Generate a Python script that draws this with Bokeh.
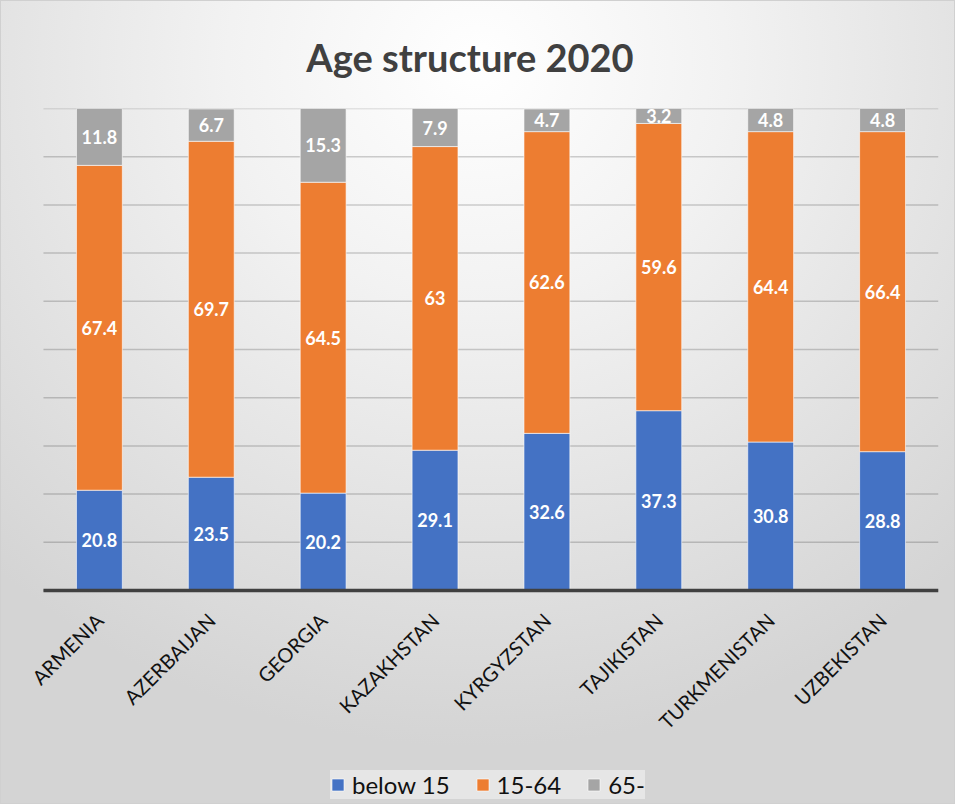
import numpy as np
from bokeh.plotting import figure
from bokeh.models import (ColumnDataSource, LabelSet, Legend, LegendItem,
                          Range1d, FixedTicker)
from bokeh.core.properties import value
from bokeh.embed import file_html
from bokeh.resources import INLINE
import math

countries = ["ARMENIA", "AZERBAIJAN", "GEORGIA", "KAZAKHSTAN",
             "KYRGYZSTAN", "TAJIKISTAN", "TURKMENISTAN", "UZBEKISTAN"]
below15 = [20.8, 23.5, 20.2, 29.1, 32.6, 37.3, 30.8, 28.8]
age15_64 = [67.4, 69.7, 64.5, 63, 62.6, 59.6, 64.4, 66.4]
age65 = [11.8, 6.7, 15.3, 7.9, 4.7, 3.2, 4.8, 4.8]
series_names = ["below 15", "15-64", "65-"]
colors = ["#4472C4", "#ED7D31", "#A5A5A5"]
y_ticks = list(range(0, 101, 10))

n = len(countries)
idx = list(range(n))
b = np.array(below15)
m = np.array(age15_64)
o = np.array(age65)

src = ColumnDataSource(dict(
    x=idx, country=countries, s0=below15, s1=age15_64, s2=age65,
    l0=[f"{v:g}" for v in below15],
    l1=[f"{v:g}" for v in age15_64],
    l2=[f"{v:g}" for v in age65],
    y0=list(b / 2), y1=list(b + m / 2), y2=list(b + m + o / 2),
))

# frame extends left of the first category band and below the baseline so
# the rotated category labels and the legend fit inside it
p = figure(frame_width=937, frame_height=695,
           x_range=Range1d(-0.875, n - 0.5),
           y_range=Range1d(-44.2, 100), output_backend="svg",
           toolbar_location=None, min_border_left=0, min_border_right=16,
           min_border_top=107, min_border_bottom=0)

p.styles = {"background-image": "radial-gradient(ellipse 75% 85% at 50% 8%, #ffffff 0%, #f2f2f2 35%, #d4d4d4 100%)",
            "border": "1px solid #d0d0d0"}
p.border_fill_alpha = 0
p.background_fill_alpha = 0
p.outline_line_color = None

# horizontal gridlines across the category bands only
grid_src = ColumnDataSource(dict(x0=[-0.5] * len(y_ticks),
                                 x1=[n - 0.5] * len(y_ticks),
                                 y=y_ticks))
p.segment(x0="x0", x1="x1", y0="y", y1="y", source=grid_src,
          line_color="black", line_alpha=0.18, line_width=1.5)

renderers = p.vbar_stack(["s0", "s1", "s2"], x="x", width=0.41,
                         color=colors, source=src,
                         line_color="white", line_alpha=0.6, line_width=1)

# baseline (category axis line)
base_src = ColumnDataSource(dict(x0=[-0.5], x1=[n - 0.5], y=[0]))
p.segment(x0="x0", x1="x1", y0="y", y1="y", source=base_src,
          line_color="#404040", line_width=3.5)

for i in range(3):
    ls = LabelSet(x="x", y=f"y{i}", text=f"l{i}", source=src,
                  text_align="center", text_baseline="middle",
                  text_color="white", text_font=value("Lato"),
                  text_font_style="bold", text_font_size="18px")
    p.add_layout(ls)

p.title.text = "Age structure 2020"
p.title.align = "center"
p.title.offset = 17
p.title.text_font = "Lato"
p.title.text_font_size = "38px"
p.title.text_font_style = "bold"
p.title.text_color = "#404040"
p.title.standoff = 58

p.yaxis.visible = False
p.ygrid.grid_line_color = None
p.xgrid.grid_line_color = None

p.xaxis.fixed_location = 0
p.xaxis.ticker = FixedTicker(ticks=idx)
p.xaxis.major_label_overrides = {i: c for i, c in zip(idx, countries)}
p.xaxis.axis_line_color = None
p.xaxis.major_tick_line_color = None
p.xaxis.minor_tick_line_color = None
p.xaxis.major_label_orientation = math.pi / 4
p.xaxis.major_label_text_font = "Lato"
p.xaxis.major_label_text_font_size = "20px"
p.xaxis.major_label_text_color = "#111111"
p.xaxis.major_label_standoff = 20

legend = Legend(items=[LegendItem(label=series_names[i], renderers=[renderers[i]])
                       for i in range(3)],
                orientation="horizontal", location=(329, 4),
                label_text_font="Lato", label_text_font_size="24px",
                label_text_color="#111111", label_height=25,
                glyph_width=15, glyph_height=15, label_standoff=7,
                spacing=25, padding=12, margin=0,
                background_fill_color="#e6e6e6", background_fill_alpha=1,
                border_line_color=None)
p.add_layout(legend)

open("out.html", "w").write(file_html(p, INLINE))
